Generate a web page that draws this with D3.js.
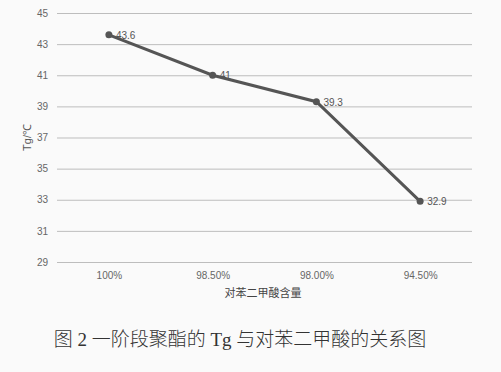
<!DOCTYPE html>
<html>
<head>
<meta charset="utf-8">
<script src="https://cdn.jsdelivr.net/npm/d3@7"></script>
<style>
	body { margin: 0; background: #fafafa; }
	svg { display: block; }
</style>
</head>
<body>
<div id="chart"></div>
<script>
(function(){
	var width = 501;
	var height = 372;

	// data
	var categories = ['100%', '98.50%', '98.00%', '94.50%'];
	var tgValues = [43.6, 41, 39.3, 32.9];
	var yTicks = [29, 31, 33, 35, 37, 39, 41, 43, 45];

	var margin = {left: 57, right: 29, top: 13, bottom: 110};

	var svg = d3.select('#chart').append('svg')
		.attr('width', width)
		.attr('height', height);

	var x = d3.scalePoint()
		.domain(categories)
		.range([margin.left, width - margin.right])
		.padding(0.5);

	var y = d3.scaleLinear()
		.domain([29, 45])
		.range([height - margin.bottom, margin.top]);

	// grid lines + y labels
	var yAxis = d3.axisLeft(y)
		.tickValues(yTicks)
		.tickSize(-(width - margin.left - margin.right))
		.tickPadding(9);

	var gy = svg.append('g')
		.attr('transform', 'translate(' + margin.left + ',0)')
		.call(yAxis);
	gy.select('.domain').remove();
	gy.selectAll('line').attr('stroke', '#bdbdbd').attr('stroke-width', 1);
	gy.selectAll('text')
		.attr('fill', '#666')
		.style('font-family', 'Liberation Sans, Arial, sans-serif')
		.style('font-size', '10px');

	// x labels
	var xAxis = d3.axisBottom(x).tickSize(0).tickPadding(10);
	var gx = svg.append('g')
		.attr('transform', 'translate(0,' + (height - margin.bottom) + ')')
		.call(xAxis);
	gx.select('.domain').remove();
	gx.selectAll('text')
		.attr('fill', '#666')
		.style('font-family', 'Liberation Sans Narrow, Liberation Sans, Arial, sans-serif')
		.style('font-size', '10px');

	// line
	var line = d3.line()
		.x(function(d, i){ return x(categories[i]); })
		.y(function(d){ return y(d); });

	svg.append('path')
		.datum(tgValues)
		.attr('d', line)
		.attr('fill', 'none')
		.attr('stroke', '#555')
		.attr('stroke-width', 3);

	svg.selectAll('circle.pt')
		.data(tgValues)
		.enter()
		.append('circle')
		.attr('class', 'pt')
		.attr('cx', function(d, i){ return x(categories[i]); })
		.attr('cy', function(d){ return y(d); })
		.attr('r', 3.5)
		.attr('fill', '#555');

	svg.selectAll('text.lbl')
		.data(tgValues)
		.enter()
		.append('text')
		.attr('class', 'lbl')
		.attr('x', function(d, i){ return x(categories[i]) + 7; })
		.attr('y', function(d){ return y(d) + 4; })
		.attr('fill', '#555')
		.style('font-family', 'Liberation Sans, Arial, sans-serif')
		.style('font-size', '10px')
		.text(function(d){ return d; });

	// axis titles
	svg.append('text')
		.attr('transform', 'translate(31,' + (y(37)) + ') rotate(-90)')
		.attr('text-anchor', 'middle')
		.attr('fill', '#555')
		.style('font-family', 'Liberation Sans, Arial, sans-serif')
		.style('font-size', '11px')
		.text('Tg/℃');

	svg.append('text')
		.attr('x', 263)
		.attr('y', 297)
		.attr('text-anchor', 'middle')
		.attr('fill', '#444')
		.style('font-family', 'Noto Sans CJK SC, sans-serif')
		.style('font-size', '11px')
		.text('对苯二甲酸含量');

	// caption
	svg.append('text')
		.attr('x', 240)
		.attr('y', 346)
		.attr('text-anchor', 'middle')
		.attr('fill', '#333')
		.style('font-family', 'Liberation Serif, Noto Sans CJK SC, serif')
		.style('font-weight', '300')
		.style('font-size', '19px')
		.text('图 2 一阶段聚酯的 Tg 与对苯二甲酸的关系图');
})();
</script>
</body>
</html>
